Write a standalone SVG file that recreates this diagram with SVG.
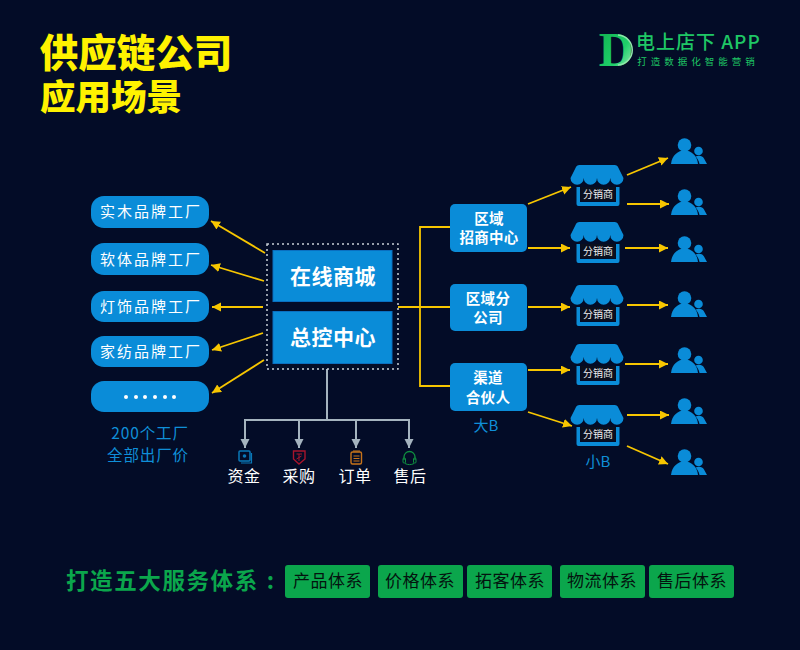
<svg xmlns="http://www.w3.org/2000/svg" width="800" height="650" viewBox="0 0 800 650">
<style>
text{font-family:"Noto Sans CJK SC","Liberation Sans",sans-serif;text-anchor:middle}
.title{fill:#fff200;font-weight:900}
.pill{fill:#0a8cd8}
.pt{fill:#fff;font-size:15px;letter-spacing:2px}
.main{fill:#0a8cd8;stroke:#0a6fc0;stroke-width:1}
.mt{fill:#fff;font-size:21px;font-weight:700;letter-spacing:.5px}
.rt{fill:#fff;font-size:14.5px;font-weight:700;letter-spacing:.3px}
.blue{fill:#0f8fd8;font-size:15.5px;letter-spacing:.9px}
.wl{fill:#fff;font-size:16px;letter-spacing:.5px}
.gb{fill:#0ba64c}
.gt{fill:#04130f;font-size:17px;letter-spacing:.5px}
.y{stroke:#f7c600;stroke-width:1.8;fill:none}
.ya{stroke:#f7c600;stroke-width:1.8;fill:none;marker-end:url(#ay)}
.g{stroke:#a5b4bf;stroke-width:2;fill:none}
.ga{stroke:#a5b4bf;stroke-width:2;fill:none;marker-end:url(#ag)}
.st{font-size:10px;fill:#f0f0f0}
</style>
<defs>
<marker id="ay" markerUnits="userSpaceOnUse" markerWidth="10" markerHeight="10" refX="9" refY="4.500" orient="auto"><path d="M0 0L9 4.500L0 9Z" fill="#f7c600"/></marker>
<marker id="ag" markerUnits="userSpaceOnUse" markerWidth="10" markerHeight="10" refX="9" refY="4.500" orient="auto"><path d="M0 0L9 4.500L0 9Z" fill="#a5b4bf"/></marker>
<linearGradient id="lg" x1="0" y1="0" x2="1" y2="1"><stop offset="0" stop-color="#0fae4c"/><stop offset=".6" stop-color="#1fd06a"/><stop offset="1" stop-color="#b5f0c8"/></linearGradient>
<g id="store">
<path d="M9 0H44Q47 0 48 3L53 13A6.625 6.625 0 0 1 39.750 13A6.625 6.625 0 0 1 26.500 13A6.625 6.625 0 0 1 13.250 13A6.625 6.625 0 0 1 0 13L5 3Q6 0 9 0Z" fill="#0a8cd8"/>
<path d="M6 22H9.500V37H45.500V22H49V39A2 2 0 0 1 47 41H8A2 2 0 0 1 6 39Z" fill="#0a8cd8"/>
<rect x="10" y="22" width="35" height="14" fill="#0a0f1e"/>
<text x="27.500" y="33" class="st">分销商</text>
</g>
<g id="people" fill="#0a8cd8">
<circle cx="13.500" cy="7" r="6.800"/>
<path d="M0 26C1 17 7 12.500 13.500 12.500C20 12.500 26 17 27 26Z"/>
<circle cx="27.500" cy="13" r="4.300"/>
<path d="M24.500 18.500C28 17 31.500 17.500 33 20.500L36 26H28.500C28 23 26.500 20.500 24.500 18.500Z"/>
</g>
</defs>
<rect width="800" height="650" fill="#030c27"/>

<g id="title">
<text x="136" y="67" class="title" font-size="38.500">供应链公司</text>
<text x="111" y="110" class="title" font-size="35.500">应用场景</text>
</g>

<g id="logo">
<text x="616" y="66" font-size="48" font-weight="700" style="font-family:'Liberation Serif',serif" fill="url(#lg)">D</text>
<path d="M618 35C637 37 637 63 618 65" fill="none" stroke="#8fe6ad" stroke-width="1.500"/>
<text x="636" y="49" font-size="19" fill="#1fc765" letter-spacing="1" font-weight="500" style="text-anchor:start">电上店下 APP</text>
<text x="698" y="65" font-size="9.500" fill="#1fc765" letter-spacing="4">打造数据化智能营销</text>
</g>

<g id="connectors">
<path class="ya" d="M265 253L211 221"/>
<path class="ya" d="M264 281L211 265"/>
<path class="ya" d="M263 307L212 307"/>
<path class="ya" d="M263 333L212 350"/>
<path class="ya" d="M264 360L212 393"/>
<path class="y" d="M398 307H450M450 227H420V386H450"/>
<path class="ya" d="M528 204L571 187"/>
<path class="ya" d="M528 248L570 248"/>
<path class="ya" d="M528 307L570 307"/>
<path class="ya" d="M528 370L570 370"/>
<path class="ya" d="M528 412L572 426"/>
<path class="ya" d="M627 175L668 158"/>
<path class="ya" d="M627 204L669 204"/>
<path class="ya" d="M625 248L668 248"/>
<path class="ya" d="M627 305L668 305"/>
<path class="ya" d="M625 364L668 364"/>
<path class="ya" d="M627 415L669 415"/>
<path class="ya" d="M627 446L668 464"/>
<path class="g" d="M327 369V420M244 420H410"/>
<path class="ga" d="M245 420V448"/>
<path class="ga" d="M299 420V448"/>
<path class="ga" d="M356 420V448"/>
<path class="ga" d="M409 420V448"/>
</g>

<g id="factory-1"><rect class="pill" x="91" y="196" width="118" height="32" rx="13"/><text x="151" y="217" class="pt">实木品牌工厂</text></g>
<g id="factory-2"><rect class="pill" x="91" y="243" width="118" height="32" rx="13"/><text x="151" y="265" class="pt">软体品牌工厂</text></g>
<g id="factory-3"><rect class="pill" x="91" y="291" width="118" height="31" rx="13"/><text x="151" y="312" class="pt">灯饰品牌工厂</text></g>
<g id="factory-4"><rect class="pill" x="91" y="336" width="118" height="31" rx="13"/><text x="151" y="357" class="pt">家纺品牌工厂</text></g>
<g id="factory-5"><rect class="pill" x="91" y="381" width="118" height="31" rx="13"/>
<g fill="#fff"><circle cx="126" cy="397" r="2"/><circle cx="136" cy="397" r="2"/><circle cx="145" cy="397" r="2"/><circle cx="155" cy="397" r="2"/><circle cx="165" cy="397" r="2"/><circle cx="174" cy="397" r="2"/></g></g>
<g id="factory-note">
<text x="150" y="439" class="blue">200个工厂</text>
<text x="148" y="461" class="blue">全部出厂价</text>
</g>

<g id="center">
<rect x="267" y="244" width="131" height="125" fill="none" stroke="#c8ced6" stroke-width="1.500" stroke-dasharray="2 3"/>
<g id="mall"><rect class="main" x="273" y="250.500" width="119" height="51"/><text x="333" y="284" class="mt">在线商城</text></g>
<g id="control"><rect class="main" x="273" y="311.500" width="119" height="52"/><text x="333" y="345" class="mt">总控中心</text></g>
</g>

<g id="region-1"><rect class="pill" x="450" y="204" width="77" height="48" rx="5"/><text x="489" y="224" class="rt">区域</text><text x="489" y="243" class="rt">招商中心</text></g>
<g id="region-2"><rect class="pill" x="450" y="284" width="77" height="47" rx="5"/><text x="488" y="304" class="rt">区域分</text><text x="488" y="323" class="rt">公司</text></g>
<g id="region-3"><rect class="pill" x="450" y="363" width="77" height="48" rx="5"/><text x="488" y="383" class="rt">渠道</text><text x="488" y="403" class="rt">合伙人</text></g>
<text x="486" y="431" fill="#0f8fd8" font-size="15">大B</text>

<g id="store-1"><use href="#store" x="570.500" y="165"/></g>
<g id="store-2"><use href="#store" x="570.500" y="222"/></g>
<g id="store-3"><use href="#store" x="570.500" y="285"/></g>
<g id="store-4"><use href="#store" x="570.500" y="344"/></g>
<g id="store-5"><use href="#store" x="570.500" y="405"/></g>
<text x="598" y="467" fill="#0f8fd8" font-size="15">小B</text>

<g id="user-1"><use href="#people" x="671" y="138"/></g>
<g id="user-2"><use href="#people" x="671" y="189"/></g>
<g id="user-3"><use href="#people" x="671" y="236"/></g>
<g id="user-4"><use href="#people" x="671" y="291"/></g>
<g id="user-5"><use href="#people" x="671" y="347"/></g>
<g id="user-6"><use href="#people" x="671" y="398"/></g>
<g id="user-7"><use href="#people" x="671" y="449"/></g>

<g id="fund"><rect x="239" y="451" width="11" height="10" rx="1" fill="none" stroke="#0a78b8" stroke-width="1.500"/><path d="M251.500 453V463H241" fill="none" stroke="#0a78b8" stroke-width="1.200"/><circle cx="244.500" cy="456" r="1.800" fill="#0a78b8"/><text x="244" y="482" class="wl">资金</text></g>
<g id="purchase"><path d="M293.500 451H305V459L299 464L293.500 459Z" fill="none" stroke="#a8142c" stroke-width="1.400"/><path d="M296.500 454H302M299 454V461M296.500 459L301.500 456" stroke="#a8142c" fill="none"/><text x="299" y="482" class="wl">采购</text></g>
<g id="order"><rect x="351" y="452" width="10.500" height="12" rx="1.500" fill="none" stroke="#c8741a" stroke-width="1.400"/><path d="M353 451H360M353.500 456H359.500M353.500 458.500H359.500M353.500 461H359.500" stroke="#c8741a" fill="none"/><text x="355" y="482" class="wl">订单</text></g>
<g id="aftersale"><path d="M404 460V457A5.500 5.500 0 0 1 415 457V460" fill="none" stroke="#0f8f40" stroke-width="1.300"/><rect x="403" y="458" width="2.500" height="5" rx="1" fill="none" stroke="#0f8f40"/><rect x="413.500" y="458" width="2.500" height="5" rx="1" fill="none" stroke="#0f8f40"/><path d="M405 463.500C408 465 411 465 414 463.500" fill="none" stroke="#0f8f40"/><text x="410" y="482" class="wl">售后</text></g>

<g id="footer">
<text x="66" y="589" fill="#0ba64c" font-size="22.500" font-weight="700" letter-spacing="1.600" style="text-anchor:start">打造五大服务体系<tspan dx="8">:</tspan></text>
<g id="sys-1"><rect class="gb" x="285" y="565" width="85" height="33" rx="3"/><text x="328" y="587" class="gt">产品体系</text></g>
<g id="sys-2"><rect class="gb" x="378" y="565" width="85" height="33" rx="3"/><text x="420" y="587" class="gt">价格体系</text></g>
<g id="sys-3"><rect class="gb" x="467" y="565" width="85" height="33" rx="3"/><text x="510" y="587" class="gt">拓客体系</text></g>
<g id="sys-4"><rect class="gb" x="560" y="565" width="85" height="33" rx="3"/><text x="602" y="587" class="gt">物流体系</text></g>
<g id="sys-5"><rect class="gb" x="649" y="565" width="85" height="33" rx="3"/><text x="692" y="587" class="gt">售后体系</text></g>
</g>
</svg>
